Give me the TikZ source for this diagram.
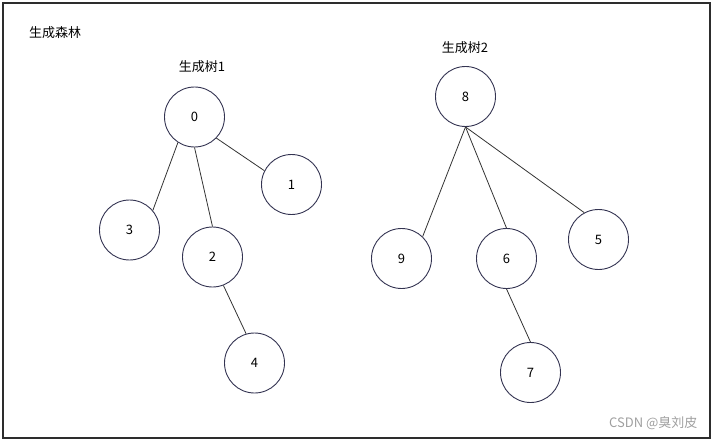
\documentclass[tikz,border=0pt]{standalone}
\usepackage{fontspec}
\newfontfamily\cjk{Noto Sans CJK SC}
\definecolor{ringcol}{RGB}{52,52,82}
\definecolor{edgecol}{RGB}{51,51,51}
\definecolor{framecol}{RGB}{45,45,45}
\begin{document}
\begin{tikzpicture}[x=1pt, y=-1pt,
    every node/.style={font=\cjk\fontsize{13}{15}\selectfont},
    vtx/.style={circle, draw=ringcol, line width=0.9pt, minimum size=60pt, inner sep=0pt},
    edge/.style={edgecol, line width=0.8pt}]

    % --- 1. 外框 ---
    \useasboundingbox (0,0) rectangle (715,441);
    \draw[framecol, line width=1.3pt] (3,3) rectangle (710,438);

    % --- 2. 标题 ---
    \node[anchor=west, inner sep=0pt] (title) at (29,33) {生成森林};
    \node (t1) at (202,67) {生成树1};
    \node (t2) at (465,48) {生成树2};

    % --- 3. 生成树1 的顶点 ---
    \node[vtx] (n0) at (194.5,117) {0};
    \node[vtx] (n1) at (291.5,184.5) {1};
    \node[vtx] (n3) at (129.5,230) {3};
    \node[vtx] (n2) at (212.5,257) {2};
    \node[vtx] (n4) at (254.5,363) {4};

    % --- 4. 生成树2 的顶点 ---
    \node[vtx] (n8) at (465.5,96.5) {8};
    \node[vtx] (n9) at (401.5,258.5) {9};
    \node[vtx] (n6) at (506.5,258.5) {6};
    \node[vtx] (n5) at (598.5,239.5) {5};
    \node[vtx] (n7) at (530.5,372.5) {7};

    % --- 5. 边 ---
    \draw[edge] (n0.237) -- (n3.40);
    \draw[edge] (n0.south) -- (n2.north);
    \draw[edge] (n0.316) -- (n1.153);
    \draw[edge] (n2.291) -- (n4.106);
    \draw[edge] (n8.south) -- (n9.46);
    \draw[edge] (n8.south) -- (n6.north);
    \draw[edge] (n8.south) -- (n5.118);
    \draw[edge] (n6.south) -- (n7.north);

    % --- 6. 水印 ---
    \node[anchor=east, gray!75] (mark) at (701,423) {CSDN @臭刘皮};

\end{tikzpicture}
\end{document}
